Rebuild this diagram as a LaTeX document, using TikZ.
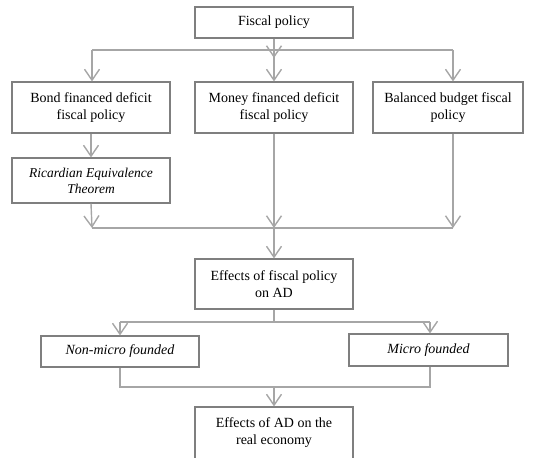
\documentclass[tikz,border=0pt]{standalone}
\usepackage{fontspec}
\setmainfont{Liberation Serif}
\usetikzlibrary{arrows.meta}
\definecolor{boxgray}{HTML}{7F7F7F}
\definecolor{linegray}{HTML}{A6A6A6}
\begin{document}
\begin{tikzpicture}[x=1pt,y=-1pt,
  box/.style={draw=boxgray,line width=1.1pt,align=center,inner sep=0pt,
    font=\fontsize{14}{17}\selectfont},
  conn/.style={draw=linegray,line width=1.4pt},
  arr/.style={conn,-{Straight Barb[length=11pt,width=15pt,line width=1.4pt]}}]
\useasboundingbox (0,0) rectangle (553,457);
\node[box,minimum width=158pt,minimum height=31pt] (fiscal) at (274,22.5) {Fiscal policy};
\node[box,minimum width=158pt,minimum height=51pt] (bond) at (91,107.5) {Bond financed deficit\\fiscal policy};
\node[box,minimum width=158pt,minimum height=51pt] (money) at (274,107.5) {Money financed deficit\\fiscal policy};
\node[box,minimum width=150pt,minimum height=51pt] (bal) at (448,107.5) {Balanced budget fiscal\\policy};
\node[box,minimum width=158pt,minimum height=45pt,font=\fontsize{13.5}{16}\selectfont\itshape] (ric) at (91,180.5) {Ricardian Equivalence\\Theorem};
\node[box,minimum width=158pt,minimum height=50pt] (eff) at (274,284) {Effects of fiscal policy\\on AD};
\node[box,minimum width=158pt,minimum height=31pt,font=\fontsize{14}{17}\selectfont\itshape] (non) at (120,351.5) {Non-micro founded};
\node[box,minimum width=159pt,minimum height=32pt,font=\fontsize{14}{17}\selectfont\itshape] (mic) at (428.5,350) {Micro founded};
\node[box,minimum width=158pt,minimum height=52pt] (real) at (274,433) {Effects of AD on the\\real economy};
% top split
\coordinate (t1) at (92,50);
\coordinate (t2) at (274,50);
\coordinate (t3) at (453,50);
\coordinate (t2a) at (274,58);
\draw[arr] (fiscal.south) -- (t2a);
\draw[conn] (t1) -- (t3);
\draw[arr] (t1) -- (t1 |- bond.north);
\draw[arr] (t2) -- (money.north);
\draw[arr] (t3) -- (t3 |- bal.north);
\draw[arr] (bond.south) -- (ric.north);
% merge
\coordinate (m1) at (92,228);
\coordinate (m2) at (274,228);
\coordinate (m3) at (453,228);
\draw[conn] (m1) -- (m3);
\draw[arr] (ric.south) -- (m1);
\draw[arr] (money.south) -- (m2);
\draw[arr] (t3 |- bal.south) -- (m3);
\draw[arr] (m2) -- (eff.north);
% second split
\coordinate (s0) at (274,322);
\coordinate (s1) at (120,322);
\coordinate (s2) at (430,322);
\draw[conn] (eff.south) -- (s0);
\draw[conn] (s1) -- (s2);
\draw[arr] (s1) -- (non.north);
\draw[arr] (s2) -- (s2 |- mic.north);
% second merge
\coordinate (r1) at (120,387);
\coordinate (r2) at (430,387);
\coordinate (r0) at (274,387);
\draw[conn] (non.south) -- (r1) -- (r2) -- (r2 |- mic.south);
\draw[arr] (r0) -- (real.north);
\end{tikzpicture}
\end{document}
